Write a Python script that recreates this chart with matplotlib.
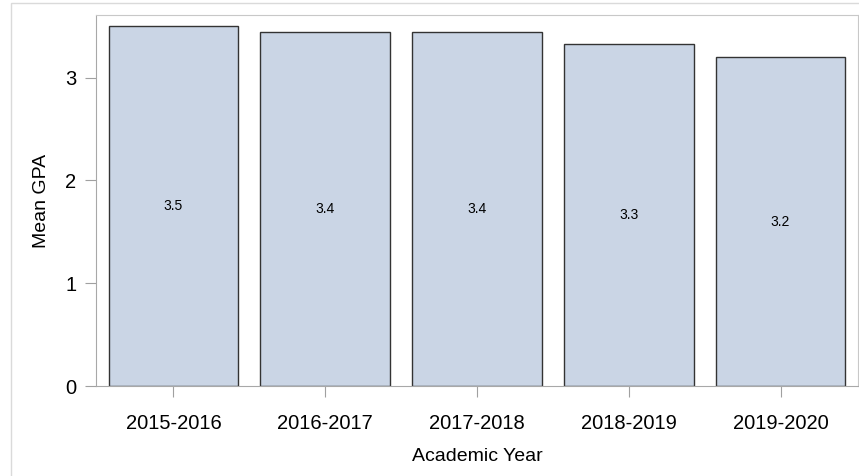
import matplotlib
matplotlib.use("Agg")
import matplotlib.pyplot as plt
from matplotlib.patches import Rectangle

plt.rcParams['font.family'] = ['Liberation Sans', 'DejaVu Sans']

years = ["2015-2016", "2016-2017", "2017-2018", "2018-2019", "2019-2020"]
mean_gpa = [3.50, 3.44, 3.44, 3.33, 3.20]
bar_labels = ["3.5", "3.4", "3.4", "3.3", "3.2"]

W, H = 859, 476
fig = plt.figure(figsize=(W / 100, H / 100), dpi=100)

# outer light border
fig.patches.append(Rectangle((11 / W, -0.1), 2, (H - 3) / H + 0.1, transform=fig.transFigure,
                             fill=False, edgecolor='#DADADA', linewidth=1))

ax = fig.add_axes([96 / W, (H - 386) / H, (858 - 96) / W, (386 - 15) / H])
x = range(len(years))
bars = ax.bar(x, mean_gpa, width=0.855, color='#CAD5E5', edgecolor='#333333', linewidth=1, zorder=2)
for xi, v, lab in zip(x, mean_gpa, bar_labels):
    ax.text(xi, v / 2, lab, ha='center', va='center', fontsize=10, color='black', zorder=3)

ax.set_xlim(-0.51, 4.51)
ax.set_ylim(0, 3.61)
ax.set_xticks(list(x))
ax.set_xticklabels(years)
ax.set_yticks([0, 1, 2, 3])
for s in ax.spines.values():
    s.set_color('#C8C8C8')
ax.spines['left'].set_color('#A8A8A8')
ax.spines['bottom'].set_color('#A8A8A8')
ax.tick_params(axis='both', colors='#A0A0A0', labelcolor='black', labelsize=14.5, length=8)
ax.tick_params(axis='x', pad=12)
ax.tick_params(axis='y', pad=6)
ax.set_xlabel("Academic Year", fontsize=14, labelpad=11)
ax.set_ylabel("Mean GPA", fontsize=14, labelpad=11)

fig.savefig("out.png", dpi=100)
